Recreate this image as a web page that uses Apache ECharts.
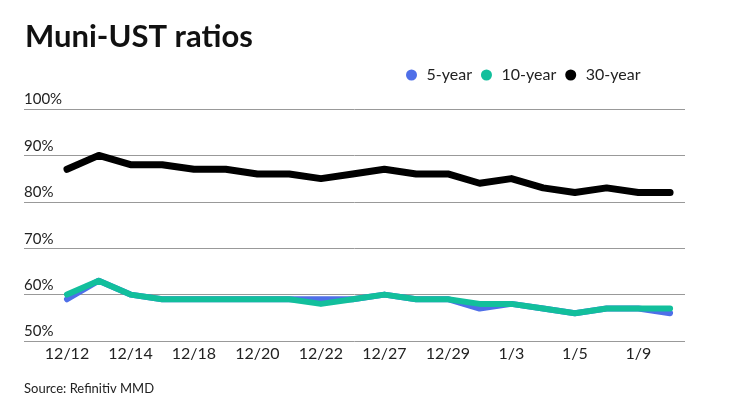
<!DOCTYPE html>
<html>
<head>
<meta charset="utf-8">
<script src="https://cdn.jsdelivr.net/npm/echarts@6/dist/echarts.min.js"></script>
<style>
html,body{margin:0;padding:0;background:#fff;}
#chart{width:740px;height:416px;}
</style>
</head>
<body>
<div id="chart"></div>
<script>
var categories = ['12/12','12/13','12/14','12/15','12/18','12/19','12/20','12/21','12/22','12/26','12/27','12/28','12/29','1/2','1/3','1/4','1/5','1/8','1/9','1/10'];
var fiveYear   = [59,63,60,59,59,59,59,59,59,59,60,59,59,57,58,57,56,57,57,56];
var tenYear    = [60,63,60,59,59,59,59,59,58,59,60,59,59,58,58,57,56,57,57,57];
var thirtyYear = [87,90,88,88,87,87,86,86,85,86,87,86,86,84,85,83,82,83,82,82];
var labelIdx   = [0,2,4,6,8,10,12,14,16,18];

function pairs(arr){ return arr.map(function(v,i){ return [i,v]; }); }

var font = 'Lato, "Noto Sans", sans-serif';
var chart = echarts.init(document.getElementById('chart'));
chart.setOption({
  animation:false,
  textStyle:{fontFamily:font},
  title:{
    text:'Muni-UST ratios', left:20, top:16,
    textStyle:{fontFamily:font, fontSize:31, fontWeight:'bold', color:'#111'}
  },
  legend:{
    left:406, top:67, padding:0, itemGap:9, itemWidth:20, itemHeight:11,
    icon:'circle',
    textStyle:{fontFamily:font, fontSize:16, color:'#222'},
    data:['5-year','10-year','30-year']
  },
  graphic:[{
    type:'text', left:24, top:382,
    style:{text:'Source: Refinitiv MMD', font:'13px Lato', fill:'#222'}
  }],
  grid:{left:24, right:55, top:109, bottom:75, containLabel:false},
  xAxis:{
    type:'value', min:-1.355, max:19.47,
    axisLine:{show:false}, axisTick:{show:false}, splitLine:{show:false},
    axisLabel:{
      customValues:labelIdx, margin:5,
      fontFamily:font, fontSize:16, color:'#222',
      formatter:function(v){ return categories[Math.round(v)]; }
    }
  },
  yAxis:{
    type:'value', min:50, max:100, interval:10,
    axisLine:{show:false}, axisTick:{show:false},
    splitLine:{lineStyle:{color:'#999', width:1}},
    axisLabel:{
      inside:true, margin:0, verticalAlign:'bottom', align:'left',
      padding:[0,0,2,0],
      fontFamily:font, fontSize:15, color:'#222',
      formatter:'{value}%'
    }
  },
  series:[
    {name:'5-year', type:'line', data:pairs(fiveYear), color:'#4f6fe8',
     symbol:'none', lineStyle:{width:6, color:'#4f6fe8', cap:'round', join:'round'}, z:2},
    {name:'10-year', type:'line', data:pairs(tenYear), color:'#12bf9c',
     symbol:'none', lineStyle:{width:6, color:'#12bf9c', cap:'round', join:'round'}, z:3},
    {name:'30-year', type:'line', data:pairs(thirtyYear), color:'#000',
     symbol:'none', lineStyle:{width:7, color:'#000', cap:'round', join:'round'}, z:4}
  ]
});
</script>
</body>
</html>
